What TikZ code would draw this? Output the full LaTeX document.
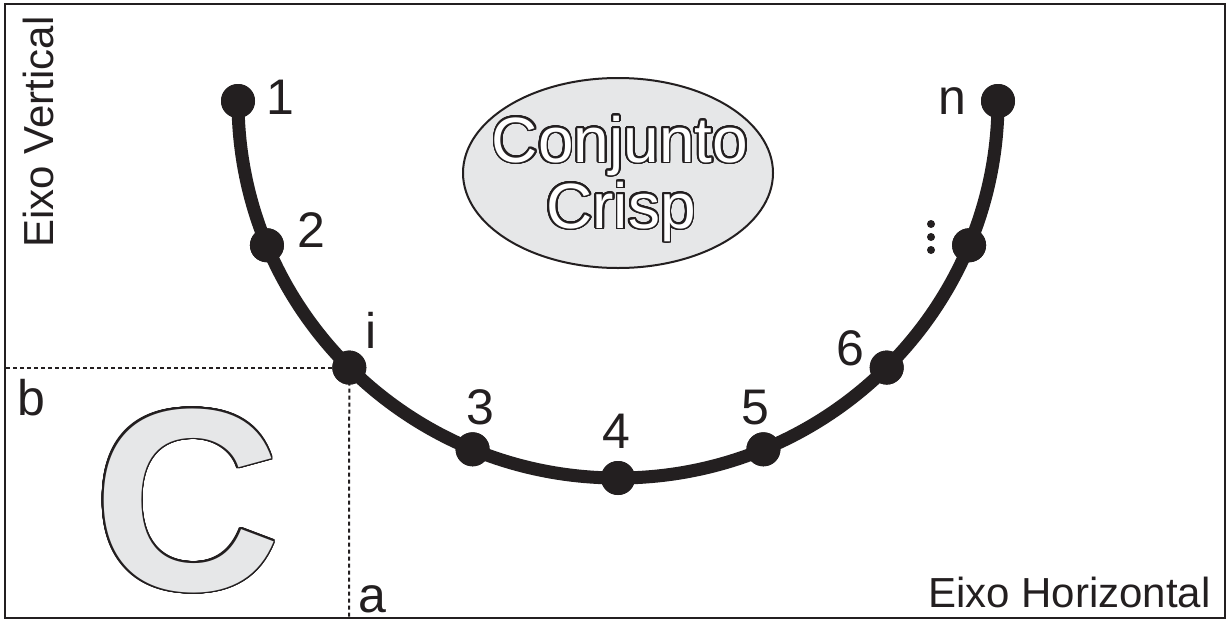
\documentclass[tikz,border=0pt]{standalone}
\usepackage{fontspec}
\setmainfont{Liberation Sans}
\usepackage{contour}
\contourlength{0.9pt}
\contournumber{32}
\usetikzlibrary{calc,shapes.geometric}
\definecolor{ink}{HTML}{231F20}
\definecolor{lightgray}{HTML}{E6E7E8}
\tikzset{
  dotnode/.style={circle,fill=ink,inner sep=0pt,minimum size=17pt},
  numlabel/.style={anchor=base,inner sep=0pt,text=ink,font=\fontsize{25}{25}\selectfont},
  axislabel/.style={inner sep=0pt,text=ink,font=\fontsize{21}{21}\selectfont},
  guide/.style={draw=ink,line width=1pt,dash pattern=on 2pt off 1.5pt},
  curveline/.style={draw=ink,line width=6.5pt},
  frame/.style={draw=ink,line width=1.2pt}
}
\begin{document}
\begin{tikzpicture}[x=0.5pt,y=-0.5pt]
\useasboundingbox (0,0) rectangle (1229,621);
\fill[white] (0,0) rectangle (1229,621);
\draw[frame] (5,4) rectangle (1225,618);

% centre of the half-ellipse
\coordinate (c) at (618,101);

% dashed guides
\coordinate (bL) at (6,368);
\coordinate (aB) at (349,618);

% big C
\node[anchor=base,inner sep=0pt,font=\bfseries\fontsize{130}{130}\selectfont] (bigC) at (187,590)
  {\contour{ink}{\textcolor{lightgray}{C}}};

% ellipse
\node[ellipse,draw=ink,line width=1pt,fill=lightgray,minimum width=155pt,minimum height=95pt] (set) at (618,173) {};
\node[anchor=base,inner sep=0pt,font=\fontsize{32}{32}\selectfont] (t1) at (620,162) {\contour{ink}{\textcolor{white}{Conjunto}}};
\node[anchor=base,inner sep=0pt,font=\fontsize{32}{32}\selectfont] (t2) at (621,228) {\contour{ink}{\textcolor{white}{Crisp}}};

% points on curve
\node[dotnode] (p1) at ($(c)+(180:380 and 377)$) {};
\node[dotnode] (p2) at ($(c)+(157.5:380 and 377)$) {};
\node[dotnode] (pi) at ($(c)+(135:380 and 377)$) {};
\node[dotnode] (p3) at ($(c)+(112.5:380 and 377)$) {};
\node[dotnode] (p4) at ($(c)+(90:380 and 377)$) {};
\node[dotnode] (p5) at ($(c)+(67.5:380 and 377)$) {};
\node[dotnode] (p6) at ($(c)+(45:380 and 377)$) {};
\node[dotnode] (pd) at ($(c)+(22.5:380 and 377)$) {};
\node[dotnode] (pn) at ($(c)+(0:380 and 377)$) {};

\draw[guide] (bL) -- (bL -| pi.center) -- (pi.center);
\draw[guide] (pi.center) -- (aB);

\draw[curveline] (p1.center) arc[start angle=180,end angle=0,x radius=380,y radius=377];
\foreach \p in {p1,p2,pi,p3,p4,p5,p6,pd,pn} \fill[ink] (\p) circle[radius=8.5pt];

% labels
\node[numlabel] (l1) at (280,114) {1};
\node[numlabel] (l2) at (311,247) {2};
\node[numlabel] (li) at (371,348) {i};
\node[numlabel] (l3) at (480,424) {3};
\node[numlabel] (l4) at (616,448) {4};
\node[numlabel] (l5) at (755,424) {5};
\node[numlabel] (l6) at (850,365) {6};
\node[numlabel] (ln) at (952,114) {n};
\fill[ink] (931,224) circle[radius=2pt];
\fill[ink] (931,237) circle[radius=2pt];
\fill[ink] (931,250) circle[radius=2pt];

\node[numlabel,anchor=base west] (lb) at (17,415) {b};
\node[numlabel,anchor=base west] (la) at (358,612) {a};

\node[axislabel,anchor=base east] (eh) at (1211,607) {Eixo Horizontal};
\node[axislabel,anchor=base west,rotate=90] (ev) at (53,248) {Eixo Vertical};
\end{tikzpicture}
\end{document}
